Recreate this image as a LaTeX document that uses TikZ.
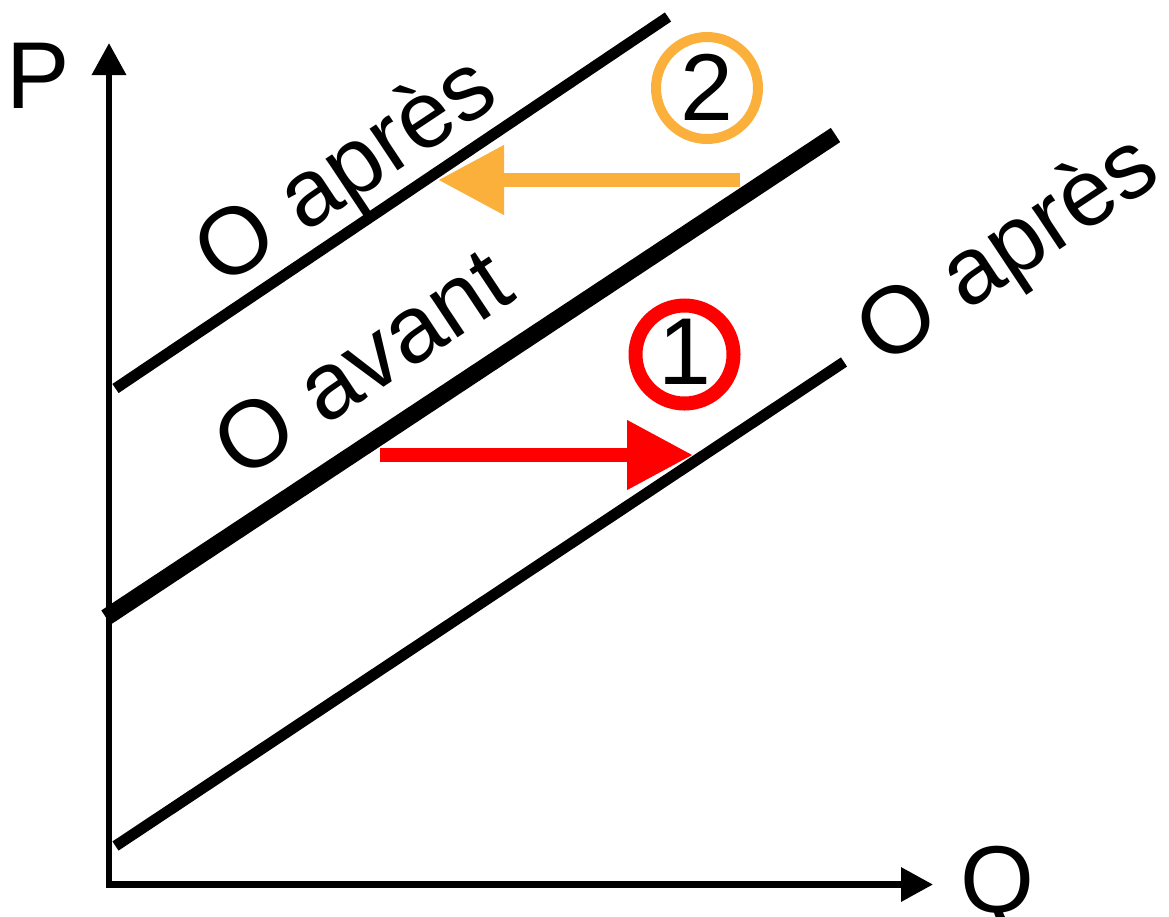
\documentclass[tikz,border=0pt]{standalone}
\usepackage{fontspec}
\setmainfont{Liberation Sans}
\usetikzlibrary{arrows.meta}
\definecolor{shiftorange}{RGB}{251,176,59}
\definecolor{shiftred}{RGB}{255,0,0}
\tikzset{
  axistip/.tip={Triangle[length=32pt,width=33pt]},
  shifttip/.tip={Triangle[length=66pt,width=66pt]}}
\begin{document}
\begin{tikzpicture}[x=1pt,y=-1pt,
  bigtext/.style={font=\fontsize{95}{114}\selectfont, inner sep=0pt},
  curvelabel/.style={bigtext, rotate=33.6, anchor=base west},
  thincurve/.style={line width=11pt, line cap=butt},
  thickcurve/.style={line width=17pt, line cap=butt},
  ring/.style={circle, draw=#1, inner sep=0pt},
  digit/.style={bigtext, anchor=base}]
  \useasboundingbox (0,0) rectangle (1169,916);

  % axes
  \coordinate (ptip) at (109,43);
  \coordinate (orig) at (109,884.5);
  \coordinate (qtip) at (933,884.5);
  \draw[line width=6.5pt, axistip-axistip] (ptip) -- (orig) -- (qtip);
  \node[bigtext, anchor=base west] (plabel) at (6.5,108) {P};
  \node[bigtext, anchor=base west] (qlabel) at (960.7,912) {Q};

  % supply curves
  \coordinate (a1) at (115.5,388.5);
  \coordinate (a2) at (668,17);
  \coordinate (b1) at (106,617.5);
  \coordinate (b2) at (835.5,135);
  \coordinate (c1) at (115.5,846);
  \coordinate (c2) at (844,362);
  \draw[thincurve] (a1) -- (a2);
  \draw[thickcurve] (b1) -- (b2);
  \draw[thincurve] (c1) -- (c2);

  \node[curvelabel] (apresup) at (221,289) {O après};
  \node[curvelabel] (avant) at (241,482) {O avant};
  \node[curvelabel] (apresdown) at (883,367.5) {O après};

  % shift arrows
  \coordinate (os) at (740,180);
  \coordinate (oe) at (438,180);
  \draw[shiftorange, line width=14pt, -shifttip] (os) -- (oe);
  \coordinate (rs) at (380,455);
  \coordinate (re) at (693,455);
  \draw[shiftred, line width=14pt, -shifttip] (rs) -- (re);

  % numbered markers
  \node[ring=shiftorange, line width=10pt, minimum size=102pt] (ring2) at (707,88) {};
  \node[digit] (two) at ([yshift=-32pt]ring2.center) {2};
  \node[ring=shiftred, line width=14pt, minimum size=98pt] (ring1) at (684.5,354.5) {};
  \node[digit] (one) at ([yshift=-30pt]ring1.center) {1};
\end{tikzpicture}
\end{document}
